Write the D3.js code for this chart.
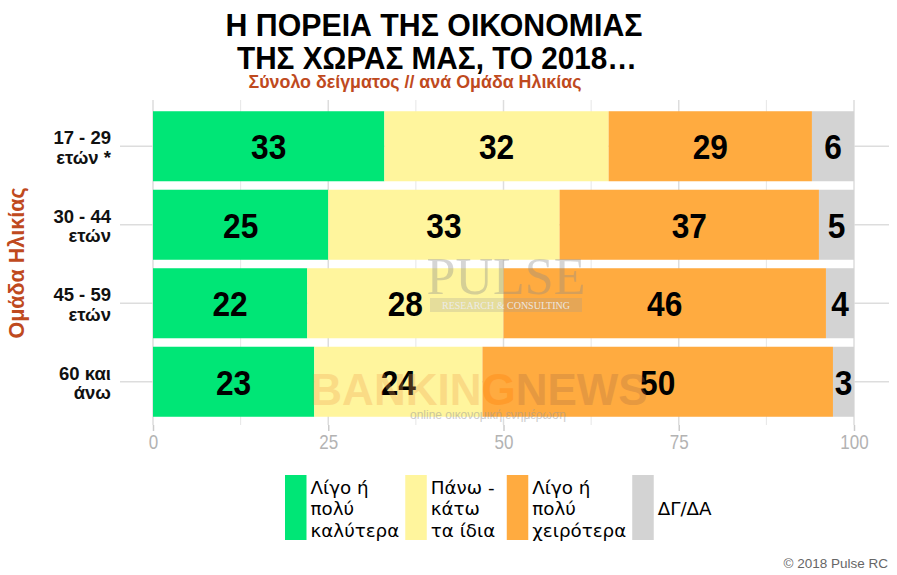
<!DOCTYPE html>
<html>
<head>
<meta charset="utf-8">
<script src="https://cdn.jsdelivr.net/npm/d3@7"></script>
<style>
  body { margin: 0; background: #fff; }
  svg { display: block; }
</style>
</head>
<body>
<svg id="chart" width="897" height="575"></svg>
<script>
// ---- data ----
const categories = ["17 - 29\nετών *", "30 - 44\nετών", "45 - 59\nετών", "60 και\nάνω"];
const seriesNames = ["Λίγο ή\nπολύ\nκαλύτερα", "Πάνω -\nκάτω\nτα ίδια", "Λίγο ή\nπολύ\nχειρότερα", "ΔΓ/ΔΑ"];
const better = [33, 25, 22, 23];
const same = [32, 33, 28, 24];
const worse = [29, 37, 46, 50];
const dkna = [6, 5, 4, 3];
const tickValues = [0, 25, 50, 75, 100];
const titleLines = ["Η ΠΟΡΕΙΑ ΤΗΣ ΟΙΚΟΝΟΜΙΑΣ", "ΤΗΣ ΧΩΡΑΣ ΜΑΣ, ΤΟ 2018…"];
const subtitle = "Σύνολο δείγματος // ανά Ομάδα Ηλικίας";
const yTitle = "Ομάδα Ηλικίας";
const caption = "© 2018 Pulse RC";

const colors = ["#00E676", "#FFF59D", "#FFAB40", "#D3D3D3"];
const sans = "'Liberation Sans',Arial,sans-serif";
const verdana = "'DejaVu Sans',Verdana,sans-serif";
const brown = "#BF4A1E";

const svg = d3.select("#chart");

const stackData = categories.map((c, i) => {
  const vals = [better[i], same[i], worse[i], dkna[i]];
  const o = {cat: c};
  seriesNames.forEach((s, j) => o[s] = vals[j]);
  return o;
});
const stacked = d3.stack().keys(seriesNames)(stackData);

const x = d3.scaleLinear().domain([0, 100]).range([153, 854]);
const y = d3.scaleBand().domain(categories).range([107, 421]).paddingInner(0.108).paddingOuter(0.054);

const panelTop = 100, panelBottom = 425;

// gridlines
const g = svg.append("g");
const minor = [12.5, 37.5, 62.5, 87.5];
g.selectAll(".vmin").data(minor).join("line")
  .attr("x1", d => x(d)).attr("x2", d => x(d))
  .attr("y1", panelTop).attr("y2", panelBottom)
  .attr("stroke", "#e6e6e6").attr("stroke-width", 1);
g.selectAll(".vmaj").data(tickValues).join("line")
  .attr("x1", d => x(d)).attr("x2", d => x(d))
  .attr("y1", panelTop).attr("y2", panelBottom)
  .attr("stroke", "#dddddd").attr("stroke-width", 1.5);
g.selectAll(".h").data(categories).join("line")
  .attr("x1", 120).attr("x2", 889)
  .attr("y1", d => y(d) + y.bandwidth() / 2).attr("y2", d => y(d) + y.bandwidth() / 2)
  .attr("stroke", "#dddddd").attr("stroke-width", 1.5);

// x axis
const xAxis = svg.append("g").attr("transform", `translate(0,${panelBottom})`)
  .call(d3.axisBottom(x).tickValues(tickValues).tickSize(6).tickPadding(4));
xAxis.select(".domain").remove();
xAxis.selectAll(".tick line").attr("stroke", "#cccccc").attr("stroke-width", 1.5);
xAxis.selectAll(".tick text").attr("fill", "#b3b3b3")
  .attr("transform", "scale(0.85,1)")
  .style("font-family", sans).style("font-size", "20px");

// bars
const layers = svg.append("g").selectAll("g").data(stacked).join("g")
  .attr("fill", (d, i) => colors[i]);
layers.selectAll("rect").data(d => d).join("rect")
  .attr("x", d => x(d[0])).attr("width", d => x(d[1]) - x(d[0]))
  .attr("y", d => y(d.data.cat)).attr("height", y.bandwidth());

// watermark
const wm = svg.append("g").attr("pointer-events", "none");
wm.append("text").attr("x", 506).attr("y", 294).attr("text-anchor", "middle")
  .style("font-family", "'Liberation Serif',serif").style("font-size", "52px")
  .attr("fill", "#8a8a8a").attr("opacity", 0.35).text("PULSE");
wm.append("rect").attr("x", 430).attr("y", 298).attr("width", 152).attr("height", 14)
  .attr("fill", "#999").attr("opacity", 0.25);
wm.append("text").attr("x", 506).attr("y", 309).attr("text-anchor", "middle")
  .style("font-family", "'Liberation Serif',serif").style("font-size", "10px")
  .attr("fill", "#eeeeee").attr("opacity", 0.9).text("RESEARCH & CONSULTING");
wm.append("text").attr("x", 479).attr("y", 405).attr("text-anchor", "middle")
  .style("font-family", sans).style("font-weight", "bold").style("font-size", "44px")
  .attr("opacity", 0.3)
  .call(t => {
    t.append("tspan").attr("fill", "#F0A050").text("BANKIN");
    t.append("tspan").attr("fill", "#FF7A00").text("G");
    t.append("tspan").attr("fill", "#B07040").text("NEWS");
  });
wm.append("text").attr("x", 488).attr("y", 419).attr("text-anchor", "middle")
  .style("font-family", sans).style("font-size", "12px")
  .attr("fill", "#999").attr("opacity", 0.5).text("online οικονομική ενημέρωση");

// value labels
layers.selectAll("text").data(d => d).join("text")
  .attr("transform", d => `translate(${x((d[0] + d[1]) / 2)},${y(d.data.cat) + y.bandwidth() / 2}) scale(0.88,1)`)
  .attr("dy", "0.36em").attr("text-anchor", "middle")
  .attr("fill", "#000")
  .style("font-family", sans).style("font-weight", "bold").style("font-size", "36px")
  .text(d => d[1] - d[0]);

// category labels
svg.append("g").selectAll("text").data(categories).join("text")
  .attr("text-anchor", "end")
  .attr("fill", "#111")
  .style("font-family", sans).style("font-weight", "bold").style("font-size", "18.5px")
  .each(function(d) {
    const lines = d.split("\n");
    const cy = y(d) + y.bandwidth() / 2;
    const t = d3.select(this);
    lines.forEach((l, i) => {
      t.append("tspan").attr("x", 111)
        .attr("y", cy + (i - (lines.length - 1) / 2) * 19.5 + 7.5)
        .text(l);
    });
  });

// y title
svg.append("text")
  .attr("transform", `translate(24,263) rotate(-90)`)
  .attr("text-anchor", "middle")
  .attr("fill", brown)
  .style("font-family", sans).style("font-weight", "bold").style("font-size", "21.5px")
  .text(yTitle);

// title
svg.append("g").selectAll("text").data(titleLines).join("text")
  .attr("x", (d, i) => i === 0 ? 434 : 437).attr("y", (d, i) => 36 + i * 32.5)
  .attr("text-anchor", "middle").attr("fill", "#000")
  .attr("textLength", (d, i) => i === 0 ? 417 : 400).attr("lengthAdjust", "spacingAndGlyphs")
  .style("font-family", sans).style("font-weight", "bold").style("font-size", "32px")
  .text(d => d);
svg.append("text").attr("x", 415).attr("y", 88).attr("text-anchor", "middle")
  .attr("fill", brown)
  .attr("textLength", 333).attr("lengthAdjust", "spacingAndGlyphs")
  .style("font-family", sans).style("font-weight", "bold").style("font-size", "18px")
  .text(subtitle);

// legend
const legend = svg.append("g");
let lx = 285;
seriesNames.forEach((s, i) => {
  const item = legend.append("g");
  item.append("rect").attr("x", lx).attr("y", 475).attr("width", 21.5).attr("height", 65).attr("fill", colors[i]);
  const lines = s.split("\n");
  const t = item.append("text").attr("fill", "#000")
    .style("font-family", verdana).style("font-size", "18.3px");
  lines.forEach((l, k) => {
    t.append("tspan").attr("x", lx + 25.5)
      .attr("y", 508 + (k - (lines.length - 1) / 2) * 21.5 + 7).text(l);
  });
  lx += 25.5 + Math.max(t.node().getBBox().width, 70) + 6;
});

// caption
svg.append("text").attr("x", 888).attr("y", 568).attr("text-anchor", "end")
  .attr("fill", "#666").style("font-family", sans).style("font-size", "13.5px")
  .text(caption);
</script>
</body>
</html>
